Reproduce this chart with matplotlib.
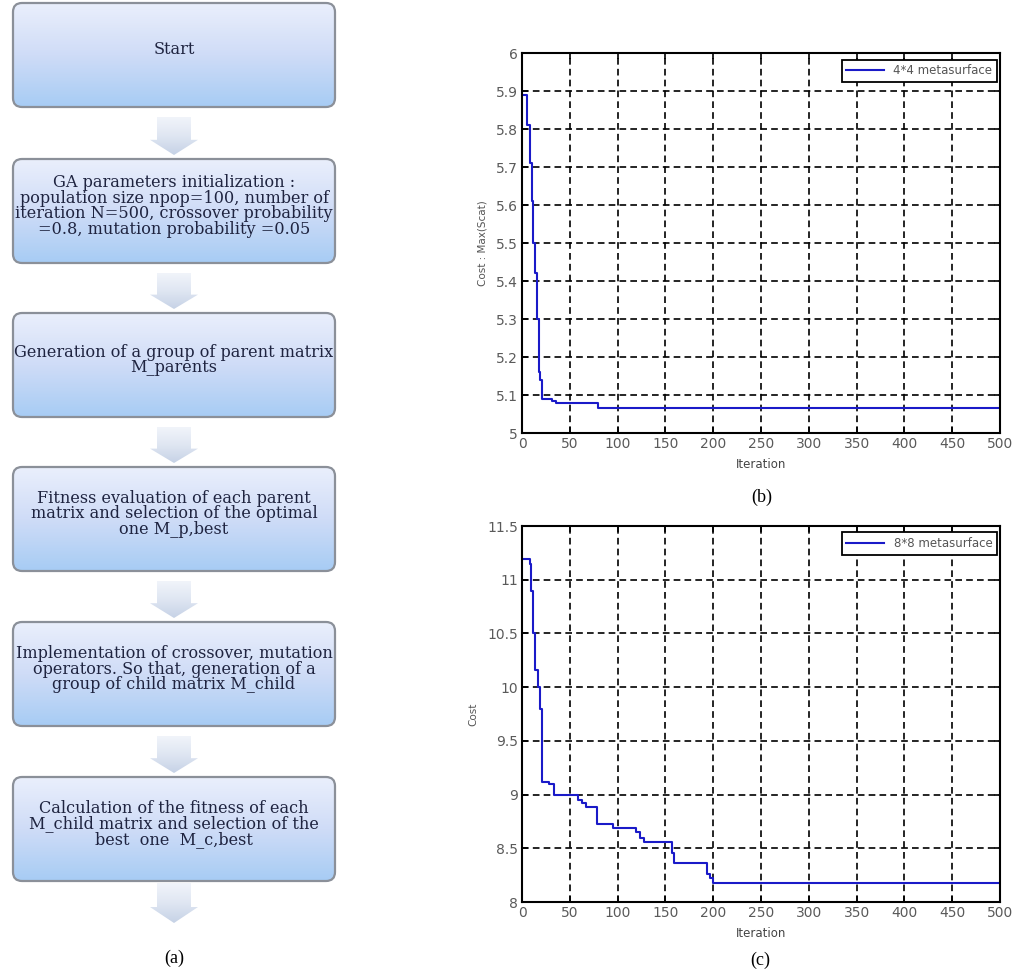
import numpy as np
import matplotlib.pyplot as plt
from matplotlib.patches import FancyBboxPatch, Polygon
from matplotlib.colors import LinearSegmentedColormap

# flowchart steps (a)
steps = [
    "Start",
    "GA parameters initialization :\npopulation size npop=100, number of\niteration N=500, crossover probability\n=0.8, mutation probability =0.05",
    "Generation of a group of parent matrix\nM_parents",
    "Fitness evaluation of each parent\nmatrix and selection of the optimal\none M_p,best",
    "Implementation of crossover, mutation\noperators. So that, generation of a\ngroup of child matrix M_child",
    "Calculation of the fitness of each\nM_child matrix and selection of the\nbest  one  M_c,best",
]

# convergence curve (b) 4*4 metasurface
iter_b = [0, 5, 8, 10, 12, 14, 16, 18, 19, 21, 31, 36, 79, 500]
cost_b = [5.89, 5.81, 5.71, 5.61, 5.50, 5.42, 5.30, 5.16, 5.14, 5.09, 5.085, 5.078, 5.065, 5.065]

# convergence curve (c) 8*8 metasurface
iter_c = [0, 8, 9, 12, 14, 17, 19, 21, 28, 33, 59, 63, 67, 78, 95, 119, 123, 128, 157, 159, 194, 197, 200, 500]
cost_c = [11.19, 11.15, 10.9, 10.5, 10.16, 10.0, 9.8, 9.12, 9.1, 9.0, 8.95, 8.92, 8.88, 8.73, 8.69, 8.65,
          8.6, 8.56, 8.46, 8.36, 8.26, 8.22, 8.18, 8.18]

fig = plt.figure(figsize=(10.16, 9.74), dpi=100)

# ---- flowchart, drawn in pixel coordinates ----
axf = fig.add_axes([0, 0, 1, 1])
axf.set_xlim(0, 1016)
axf.set_ylim(974, 0)
axf.axis("off")

box_cmap = LinearSegmentedColormap.from_list("box", ["#eaeffc", "#cfdcf7", "#a7ccf4"])
arrow_cmap = LinearSegmentedColormap.from_list("arr", ["#f1f4fa", "#dfe6f2", "#c6d2e6"])
grad = np.linspace(0, 1, 100).reshape(-1, 1)

box_left, box_w, box_h = 13, 322, 104
box_tops = [3, 159, 313, 467, 622, 777]
cx = box_left + box_w / 2

for top, label in zip(box_tops, steps):
    patch = FancyBboxPatch((box_left, top), box_w, box_h,
                           boxstyle="round,pad=0,rounding_size=9",
                           facecolor="none", edgecolor="#8b9099", lw=1.6, zorder=3)
    axf.add_patch(patch)
    im = axf.imshow(grad, cmap=box_cmap, extent=(box_left, box_left + box_w, top + box_h, top),
                    origin="upper", aspect="auto", zorder=2)
    im.set_clip_path(patch)
    axf.text(cx, top + box_h / 2 - 5, label, ha="center", va="center", fontsize=11.6,
             family="DejaVu Serif", color="#1f2440", linespacing=0.88, zorder=4)

# arrows between boxes
arrow_spans = [(box_tops[i] + box_h + 10, box_tops[i + 1] - 4) for i in range(len(box_tops) - 1)]
arrow_spans.append((box_tops[-1] + box_h + 2, box_tops[-1] + box_h + 42))
for a_top, a_bot in arrow_spans:
    mid = a_top + 0.6 * (a_bot - a_top)
    pts = [(cx - 17, a_top), (cx + 17, a_top), (cx + 17, mid), (cx + 24, mid),
           (cx, a_bot), (cx - 24, mid), (cx - 17, mid)]
    poly = Polygon(pts, closed=True, facecolor="none", edgecolor="none", zorder=2)
    axf.add_patch(poly)
    im = axf.imshow(grad, cmap=arrow_cmap, extent=(cx - 25, cx + 25, a_bot, a_top),
                    origin="upper", aspect="auto", zorder=1)
    im.set_clip_path(poly)

axf.set_xlim(0, 1016)
axf.set_ylim(974, 0)
axf.text(cx, 958, "(a)", ha="center", va="center", fontsize=13, family="Liberation Serif")
axf.text(762, 497, "(b)", ha="center", va="center", fontsize=13, family="Liberation Serif")
axf.text(760, 960, "(c)", ha="center", va="center", fontsize=13, family="Liberation Serif")


def style_axes(ax, xs, ys, yticks, yticklabels, ylabel, legend_label):
    ax.step(xs, ys, where="post", color="#1a1ac8", lw=1.5, label=legend_label)
    ax.set_xlim(0, 500)
    ax.set_xticks(range(0, 501, 50))
    ax.set_yticks(yticks)
    ax.set_yticklabels(yticklabels)
    ax.set_ylim(yticks[0], yticks[-1])
    ax.grid(True, color="k", ls=(0, (4, 2.5)), lw=1.2)
    ax.tick_params(direction="in", top=True, right=True, length=4, width=1.2,
                   labelsize=10, labelcolor="#5a5a5a", pad=3)
    for s in ax.spines.values():
        s.set_linewidth(1.5)
    ax.set_xlabel("Iteration", fontsize=8.5, color="#444444", labelpad=5)
    ax.set_ylabel(ylabel, fontsize=7.5, color="#555555", labelpad=6)
    leg = ax.legend(loc="upper right", bbox_to_anchor=(0.994, 0.983), borderaxespad=0,
                    fancybox=False, framealpha=1, edgecolor="k", fontsize=8.5,
                    handlelength=3.2, labelcolor="#555555", borderpad=0.4)
    leg.get_frame().set_linewidth(1.3)


ax1 = fig.add_axes([0.5138, 0.5554, 0.4705, 0.3901])
yt1 = [5 + 0.1 * i for i in range(11)]
style_axes(ax1, iter_b, cost_b, yt1, ["5", "5.1", "5.2", "5.3", "5.4", "5.5", "5.6", "5.7", "5.8", "5.9", "6"],
           "Cost : Max(Scat)", "4*4 metasurface")

ax2 = fig.add_axes([0.5138, 0.0739, 0.4705, 0.3860])
yt2 = [8 + 0.5 * i for i in range(8)]
style_axes(ax2, iter_c, cost_c, yt2, ["8", "8.5", "9", "9.5", "10", "10.5", "11", "11.5"],
           "Cost", "8*8 metasurface")

fig.savefig("out.png", dpi=100)
